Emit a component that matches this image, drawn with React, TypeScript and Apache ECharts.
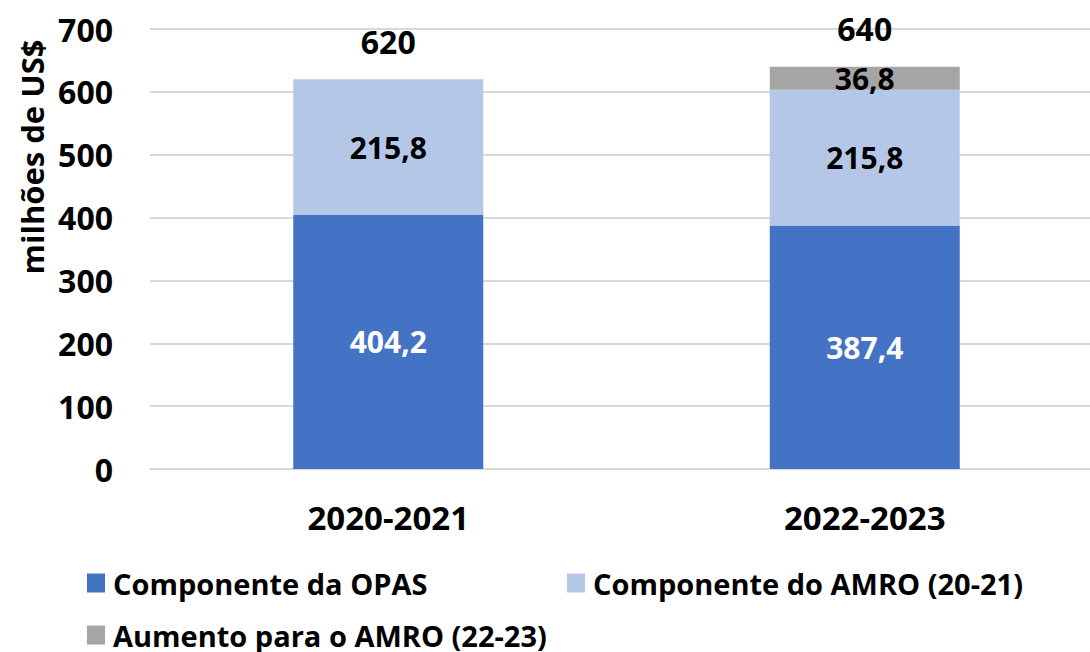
import React, { useEffect, useRef } from "react";
import * as echarts from "echarts";

const categories = ["2020-2021", "2022-2023"];
const opas = [404.2, 387.4];
const amro = [215.8, 215.8];
const aumento: (number | string)[] = ["-", 36.8];
const totals = [620, 640];
const yTicks = { min: 0, max: 700, interval: 100 };

const seriesNames = [
  "Componente da OPAS",
  "Componente do AMRO (20-21)",
  "Aumento para o AMRO (22-23)",
];
const colors = ["#4472c4", "#b4c7e7", "#a5a5a5"];

const FONT = "'Open Sans', 'Noto Sans', sans-serif";
const fmt = (v: number) => String(v).replace(".", ",");

export default function App() {
  const ref = useRef<HTMLDivElement>(null);
  useEffect(() => {
    if (!ref.current) return;
    const chart = echarts.init(ref.current, undefined, { renderer: "svg" });
    const labelBase = {
      show: true,
      position: "inside",
      fontFamily: FONT,
      fontWeight: "bold",
      fontSize: 30,
    };
    const legendText = {
      fontFamily: FONT,
      fontWeight: "bold",
      fontSize: 29,
      color: "#000",
      lineHeight: 30,
      padding: [0, 0, 0, 3],
    };
    const legendBase = {
      icon: "rect",
      itemWidth: 18,
      itemHeight: 19,
      padding: 0,
      textStyle: legendText,
    };
    chart.setOption({
      animation: false,
      backgroundColor: "#fff",
      grid: { left: 150, top: 29, height: 440, right: 0, containLabel: false },
      xAxis: {
        type: "category",
        data: categories,
        axisLine: { show: true, lineStyle: { color: "#d9d9d9", width: 2 } },
        axisTick: { show: false },
        axisLabel: {
          margin: 32,
          color: "#000",
          fontFamily: FONT,
          fontWeight: "bold",
          fontSize: 33,
        },
      },
      yAxis: {
        type: "value",
        min: yTicks.min,
        max: yTicks.max,
        interval: yTicks.interval,
        axisLine: { show: false },
        axisTick: { show: false },
        splitLine: { lineStyle: { color: "#d9d9d9", width: 2 } },
        axisLabel: {
          margin: 37,
          color: "#000",
          fontFamily: FONT,
          fontWeight: "bold",
          fontSize: 32,
        },
      },
      legend: [
        { ...legendBase, data: [seriesNames[0]], left: 87, top: 568 },
        { ...legendBase, data: [seriesNames[1]], left: 567, top: 568 },
        { ...legendBase, data: [seriesNames[2]], left: 87, top: 620 },
      ],
      graphic: [
        {
          type: "text",
          x: 32,
          y: 157,
          rotation: Math.PI / 2,
          style: {
            text: "milhões de US$",
            fill: "#000",
            font: `bold 31px ${FONT}`,
            textAlign: "center",
            textVerticalAlign: "middle",
          },
        },
      ],
      series: [
        {
          name: seriesNames[0],
          type: "bar",
          stack: "total",
          barWidth: 190,
          data: opas,
          itemStyle: { color: colors[0] },
          label: { ...labelBase, color: "#fff", formatter: (p: any) => fmt(p.value) },
        },
        {
          name: seriesNames[1],
          type: "bar",
          stack: "total",
          barWidth: 190,
          data: amro,
          itemStyle: { color: colors[1] },
          label: { ...labelBase, color: "#000", formatter: (p: any) => fmt(p.value) },
        },
        {
          name: seriesNames[2],
          type: "bar",
          stack: "total",
          barWidth: 190,
          data: aumento,
          itemStyle: { color: colors[2] },
          label: {
            ...labelBase,
            color: "#000",
            formatter: (p: any) => (typeof p.value === "number" ? fmt(p.value) : ""),
          },
        },
        {
          name: "total",
          type: "bar",
          stack: "total",
          barWidth: 190,
          data: [0, 0],
          itemStyle: { color: "transparent" },
          label: {
            ...labelBase,
            fontSize: 32,
            position: "top",
            distance: 22,
            color: "#000",
            formatter: (p: any) => String(totals[p.dataIndex]),
          },
        },
      ],
    });
    return () => chart.dispose();
  }, []);
  return (
    <div style={{ position: "absolute", left: 0, top: 0, width: 1090, height: 652, overflow: "hidden" }}>
      <div ref={ref} style={{ width: 1103, height: 652 }} />
    </div>
  );
}
